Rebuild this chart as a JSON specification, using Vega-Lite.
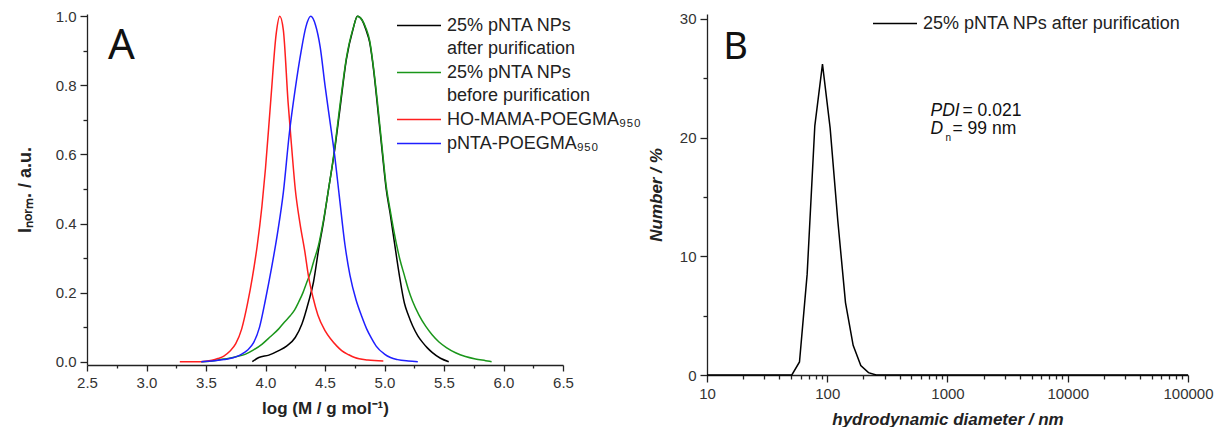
{
  "$schema": "https://vega.github.io/schema/vega-lite/v6.json",
  "background": "white",
  "padding": {"left": 16, "top": 9, "right": 0, "bottom": 0},
  "spacing": 6,
  "resolve": {"scale": {"color": "independent"}, "legend": {"color": "independent"}},
  "config": {
    "view": {"stroke": null},
    "axis": {
      "grid": false,
      "domainColor": "#222",
      "domainWidth": 1.3,
      "tickColor": "#222",
      "tickWidth": 1.3,
      "labelFont": "Liberation Sans",
      "labelFontSize": 15,
      "labelColor": "#333",
      "labelFlush": false,
      "labelOverlap": false,
      "titleFont": "Liberation Sans",
      "titleFontSize": 17,
      "titleFontWeight": "bold",
      "titleColor": "#222"
    },
    "legend": {
      "padding": 0,
      "labelFont": "Liberation Sans",
      "labelFontSize": 18,
      "labelColor": "#222",
      "labelLimit": 400,
      "labelOffset": 5,
      "rowPadding": 5,
      "clipHeight": 17,
      "symbolType": "stroke",
      "symbolSize": 1936,
      "symbolStrokeWidth": 1.5
    }
  },
  "hconcat": [
    {
      "width": 476,
      "height": 351,
      "resolve": {"axis": {"x": "independent", "y": "independent"}},
      "layer": [
        {
          "data": {"values": [
            {"s":"25% pNTA NPs after purification","x":3.889,"y":0},{"s":"25% pNTA NPs after purification","x":3.944,"y":0.012},{"s":"25% pNTA NPs after purification","x":4.028,"y":0.019},{"s":"25% pNTA NPs after purification","x":4.111,"y":0.032},{"s":"25% pNTA NPs after purification","x":4.18,"y":0.046},{"s":"25% pNTA NPs after purification","x":4.25,"y":0.07},{"s":"25% pNTA NPs after purification","x":4.306,"y":0.109},{"s":"25% pNTA NPs after purification","x":4.361,"y":0.172},{"s":"25% pNTA NPs after purification","x":4.403,"y":0.23},{"s":"25% pNTA NPs after purification","x":4.444,"y":0.32},{"s":"25% pNTA NPs after purification","x":4.49,"y":0.41},{"s":"25% pNTA NPs after purification","x":4.53,"y":0.5},{"s":"25% pNTA NPs after purification","x":4.58,"y":0.61},{"s":"25% pNTA NPs after purification","x":4.625,"y":0.73},{"s":"25% pNTA NPs after purification","x":4.68,"y":0.876},{"s":"25% pNTA NPs after purification","x":4.736,"y":0.963},{"s":"25% pNTA NPs after purification","x":4.772,"y":1.0},{"s":"25% pNTA NPs after purification","x":4.81,"y":0.99},{"s":"25% pNTA NPs after purification","x":4.845,"y":0.96},{"s":"25% pNTA NPs after purification","x":4.875,"y":0.925},{"s":"25% pNTA NPs after purification","x":4.91,"y":0.84},{"s":"25% pNTA NPs after purification","x":4.944,"y":0.73},{"s":"25% pNTA NPs after purification","x":4.98,"y":0.61},{"s":"25% pNTA NPs after purification","x":5.014,"y":0.5},{"s":"25% pNTA NPs after purification","x":5.047,"y":0.43},{"s":"25% pNTA NPs after purification","x":5.083,"y":0.346},{"s":"25% pNTA NPs after purification","x":5.125,"y":0.25},{"s":"25% pNTA NPs after purification","x":5.167,"y":0.17},{"s":"25% pNTA NPs after purification","x":5.2,"y":0.135},{"s":"25% pNTA NPs after purification","x":5.236,"y":0.104},{"s":"25% pNTA NPs after purification","x":5.28,"y":0.075},{"s":"25% pNTA NPs after purification","x":5.32,"y":0.056},{"s":"25% pNTA NPs after purification","x":5.36,"y":0.04},{"s":"25% pNTA NPs after purification","x":5.4,"y":0.027},{"s":"25% pNTA NPs after purification","x":5.47,"y":0.01},{"s":"25% pNTA NPs after purification","x":5.54,"y":0},
            {"s":"25% pNTA NPs before purification","x":3.46,"y":0},{"s":"25% pNTA NPs before purification","x":3.55,"y":0.002},{"s":"25% pNTA NPs before purification","x":3.62,"y":0.006},{"s":"25% pNTA NPs before purification","x":3.694,"y":0.01},{"s":"25% pNTA NPs before purification","x":3.76,"y":0.015},{"s":"25% pNTA NPs before purification","x":3.833,"y":0.022},{"s":"25% pNTA NPs before purification","x":3.9,"y":0.034},{"s":"25% pNTA NPs before purification","x":3.972,"y":0.051},{"s":"25% pNTA NPs before purification","x":4.04,"y":0.072},{"s":"25% pNTA NPs before purification","x":4.111,"y":0.095},{"s":"25% pNTA NPs before purification","x":4.16,"y":0.115},{"s":"25% pNTA NPs before purification","x":4.208,"y":0.133},{"s":"25% pNTA NPs before purification","x":4.245,"y":0.15},{"s":"25% pNTA NPs before purification","x":4.278,"y":0.172},{"s":"25% pNTA NPs before purification","x":4.315,"y":0.2},{"s":"25% pNTA NPs before purification","x":4.347,"y":0.23},{"s":"25% pNTA NPs before purification","x":4.38,"y":0.26},{"s":"25% pNTA NPs before purification","x":4.403,"y":0.288},{"s":"25% pNTA NPs before purification","x":4.444,"y":0.335},{"s":"25% pNTA NPs before purification","x":4.49,"y":0.415},{"s":"25% pNTA NPs before purification","x":4.53,"y":0.5},{"s":"25% pNTA NPs before purification","x":4.58,"y":0.615},{"s":"25% pNTA NPs before purification","x":4.625,"y":0.74},{"s":"25% pNTA NPs before purification","x":4.68,"y":0.88},{"s":"25% pNTA NPs before purification","x":4.736,"y":0.965},{"s":"25% pNTA NPs before purification","x":4.775,"y":1.0},{"s":"25% pNTA NPs before purification","x":4.81,"y":0.99},{"s":"25% pNTA NPs before purification","x":4.845,"y":0.965},{"s":"25% pNTA NPs before purification","x":4.875,"y":0.93},{"s":"25% pNTA NPs before purification","x":4.91,"y":0.845},{"s":"25% pNTA NPs before purification","x":4.944,"y":0.74},{"s":"25% pNTA NPs before purification","x":4.98,"y":0.62},{"s":"25% pNTA NPs before purification","x":5.014,"y":0.51},{"s":"25% pNTA NPs before purification","x":5.047,"y":0.44},{"s":"25% pNTA NPs before purification","x":5.097,"y":0.346},{"s":"25% pNTA NPs before purification","x":5.13,"y":0.295},{"s":"25% pNTA NPs before purification","x":5.167,"y":0.25},{"s":"25% pNTA NPs before purification","x":5.2,"y":0.21},{"s":"25% pNTA NPs before purification","x":5.236,"y":0.175},{"s":"25% pNTA NPs before purification","x":5.29,"y":0.135},{"s":"25% pNTA NPs before purification","x":5.347,"y":0.102},{"s":"25% pNTA NPs before purification","x":5.4,"y":0.078},{"s":"25% pNTA NPs before purification","x":5.458,"y":0.057},{"s":"25% pNTA NPs before purification","x":5.52,"y":0.041},{"s":"25% pNTA NPs before purification","x":5.597,"y":0.026},{"s":"25% pNTA NPs before purification","x":5.68,"y":0.015},{"s":"25% pNTA NPs before purification","x":5.764,"y":0.008},{"s":"25% pNTA NPs before purification","x":5.85,"y":0.003},{"s":"25% pNTA NPs before purification","x":5.9,"y":0},
            {"s":"HO-MAMA-POEGMA₉₅₀","x":3.28,"y":0},{"s":"HO-MAMA-POEGMA₉₅₀","x":3.45,"y":0},{"s":"HO-MAMA-POEGMA₉₅₀","x":3.5,"y":0.001},{"s":"HO-MAMA-POEGMA₉₅₀","x":3.55,"y":0.004},{"s":"HO-MAMA-POEGMA₉₅₀","x":3.6,"y":0.009},{"s":"HO-MAMA-POEGMA₉₅₀","x":3.65,"y":0.016},{"s":"HO-MAMA-POEGMA₉₅₀","x":3.7,"y":0.03},{"s":"HO-MAMA-POEGMA₉₅₀","x":3.75,"y":0.052},{"s":"HO-MAMA-POEGMA₉₅₀","x":3.8,"y":0.095},{"s":"HO-MAMA-POEGMA₉₅₀","x":3.85,"y":0.17},{"s":"HO-MAMA-POEGMA₉₅₀","x":3.89,"y":0.245},{"s":"HO-MAMA-POEGMA₉₅₀","x":3.93,"y":0.335},{"s":"HO-MAMA-POEGMA₉₅₀","x":3.97,"y":0.45},{"s":"HO-MAMA-POEGMA₉₅₀","x":4.0,"y":0.56},{"s":"HO-MAMA-POEGMA₉₅₀","x":4.045,"y":0.76},{"s":"HO-MAMA-POEGMA₉₅₀","x":4.09,"y":0.95},{"s":"HO-MAMA-POEGMA₉₅₀","x":4.12,"y":1.0},{"s":"HO-MAMA-POEGMA₉₅₀","x":4.15,"y":0.96},{"s":"HO-MAMA-POEGMA₉₅₀","x":4.19,"y":0.75},{"s":"HO-MAMA-POEGMA₉₅₀","x":4.22,"y":0.62},{"s":"HO-MAMA-POEGMA₉₅₀","x":4.25,"y":0.5},{"s":"HO-MAMA-POEGMA₉₅₀","x":4.29,"y":0.4},{"s":"HO-MAMA-POEGMA₉₅₀","x":4.33,"y":0.32},{"s":"HO-MAMA-POEGMA₉₅₀","x":4.36,"y":0.25},{"s":"HO-MAMA-POEGMA₉₅₀","x":4.4,"y":0.185},{"s":"HO-MAMA-POEGMA₉₅₀","x":4.44,"y":0.135},{"s":"HO-MAMA-POEGMA₉₅₀","x":4.5,"y":0.09},{"s":"HO-MAMA-POEGMA₉₅₀","x":4.55,"y":0.065},{"s":"HO-MAMA-POEGMA₉₅₀","x":4.6,"y":0.045},{"s":"HO-MAMA-POEGMA₉₅₀","x":4.64,"y":0.032},{"s":"HO-MAMA-POEGMA₉₅₀","x":4.7,"y":0.02},{"s":"HO-MAMA-POEGMA₉₅₀","x":4.75,"y":0.012},{"s":"HO-MAMA-POEGMA₉₅₀","x":4.86,"y":0.005},{"s":"HO-MAMA-POEGMA₉₅₀","x":4.99,"y":0.002},
            {"s":"pNTA-POEGMA₉₅₀","x":3.46,"y":0},{"s":"pNTA-POEGMA₉₅₀","x":3.55,"y":0.002},{"s":"pNTA-POEGMA₉₅₀","x":3.65,"y":0.006},{"s":"pNTA-POEGMA₉₅₀","x":3.7,"y":0.009},{"s":"pNTA-POEGMA₉₅₀","x":3.75,"y":0.014},{"s":"pNTA-POEGMA₉₅₀","x":3.8,"y":0.022},{"s":"pNTA-POEGMA₉₅₀","x":3.85,"y":0.034},{"s":"pNTA-POEGMA₉₅₀","x":3.9,"y":0.055},{"s":"pNTA-POEGMA₉₅₀","x":3.95,"y":0.1},{"s":"pNTA-POEGMA₉₅₀","x":4.0,"y":0.18},{"s":"pNTA-POEGMA₉₅₀","x":4.05,"y":0.27},{"s":"pNTA-POEGMA₉₅₀","x":4.1,"y":0.37},{"s":"pNTA-POEGMA₉₅₀","x":4.15,"y":0.49},{"s":"pNTA-POEGMA₉₅₀","x":4.2,"y":0.66},{"s":"pNTA-POEGMA₉₅₀","x":4.25,"y":0.79},{"s":"pNTA-POEGMA₉₅₀","x":4.3,"y":0.9},{"s":"pNTA-POEGMA₉₅₀","x":4.34,"y":0.97},{"s":"pNTA-POEGMA₉₅₀","x":4.38,"y":1.0},{"s":"pNTA-POEGMA₉₅₀","x":4.42,"y":0.975},{"s":"pNTA-POEGMA₉₅₀","x":4.46,"y":0.91},{"s":"pNTA-POEGMA₉₅₀","x":4.5,"y":0.8},{"s":"pNTA-POEGMA₉₅₀","x":4.54,"y":0.7},{"s":"pNTA-POEGMA₉₅₀","x":4.58,"y":0.6},{"s":"pNTA-POEGMA₉₅₀","x":4.62,"y":0.48},{"s":"pNTA-POEGMA₉₅₀","x":4.667,"y":0.34},{"s":"pNTA-POEGMA₉₅₀","x":4.71,"y":0.25},{"s":"pNTA-POEGMA₉₅₀","x":4.76,"y":0.18},{"s":"pNTA-POEGMA₉₅₀","x":4.81,"y":0.13},{"s":"pNTA-POEGMA₉₅₀","x":4.85,"y":0.095},{"s":"pNTA-POEGMA₉₅₀","x":4.89,"y":0.068},{"s":"pNTA-POEGMA₉₅₀","x":4.93,"y":0.045},{"s":"pNTA-POEGMA₉₅₀","x":5.0,"y":0.022},{"s":"pNTA-POEGMA₉₅₀","x":5.05,"y":0.012},{"s":"pNTA-POEGMA₉₅₀","x":5.11,"y":0.006},{"s":"pNTA-POEGMA₉₅₀","x":5.2,"y":0.002},{"s":"pNTA-POEGMA₉₅₀","x":5.28,"y":0}
          ]},
          "mark": {"type": "line", "strokeWidth": 1.5, "interpolate": "monotone"},
          "encoding": {
            "x": {"field": "x", "type": "quantitative",
              "scale": {"domain": [2.5, 6.5], "nice": false, "zero": false},
              "axis": {
                "orient": "bottom",
                "title": "log (M / g mol⁻¹)",
                "values": [2.5,3,3.5,4,4.5,5,5.5,6,6.5],
                "format": ".1f",
                "tickSize": 6,
                "labelPadding": 4,
                "titlePadding": 10
              }},
            "y": {"field": "y", "type": "quantitative",
              "scale": {"domain": [-0.0096, 1.0067], "nice": false, "zero": false},
              "axis": {
                "orient": "left",
                "title": "Iₙₒᵣₘ. / a.u.",
                "titleFontSize": 18,
                "values": [0,0.2,0.4,0.6,0.8,1.0],
                "format": ".1f",
                "tickSize": 7,
                "labelPadding": 4,
                "titlePadding": 21
              }},
            "color": {"field": "s", "type": "nominal",
              "scale": {
                "domain": ["25% pNTA NPs after purification", "25% pNTA NPs before purification", "HO-MAMA-POEGMA₉₅₀", "pNTA-POEGMA₉₅₀"],
                "range": ["#000000", "#1a961a", "#ff1f1f", "#1f1fff"]
              },
              "legend": {
                "title": null,
                "orient": "none",
                "legendX": 309,
                "legendY": 3,
                "labelExpr": "indexof(datum.label, 'purification') > 0 ? [substring(datum.label, 0, 12), substring(datum.label, 13)] : datum.label",
                "encode": {"labels": {"update": {"lineHeight": {"value": 23}}}}
              }}
          }
        },
        {
          "data": {"values": [{"t": "A", "x": 2.79, "y": 0.876}]},
          "mark": {"type": "text", "font": "Noto Sans", "fontSize": 42, "align": "center", "baseline": "alphabetic", "color": "#111"},
          "encoding": {
            "x": {"field": "x", "type": "quantitative",
              "axis": {"orient": "bottom", "values": [2.75,3.25,3.75,4.25,4.75,5.25,5.75,6.25], "labels": false, "domain": false, "tickSize": 3, "title": null}},
            "y": {"field": "y", "type": "quantitative",
              "axis": {"orient": "left", "values": [0.1,0.3,0.5,0.7,0.9], "labels": false, "domain": false, "tickSize": 4, "title": null}},
            "text": {"field": "t"}
          }
        }
      ]
    },
    {
      "width": 481,
      "height": 361,
      "resolve": {"axis": {"x": "independent", "y": "independent"}},
      "layer": [
        {
          "data": {"values": [
            {"s":"25% pNTA NPs after purification","d":10,"n":0},
            {"s":"25% pNTA NPs after purification","d":50.75,"n":0},
            {"s":"25% pNTA NPs after purification","d":58.77,"n":1.1},
            {"s":"25% pNTA NPs after purification","d":68.06,"n":8.5},
            {"s":"25% pNTA NPs after purification","d":78.82,"n":21.0},
            {"s":"25% pNTA NPs after purification","d":91.28,"n":26.2},
            {"s":"25% pNTA NPs after purification","d":105.7,"n":20.8},
            {"s":"25% pNTA NPs after purification","d":122.4,"n":13.0},
            {"s":"25% pNTA NPs after purification","d":141.8,"n":6.1},
            {"s":"25% pNTA NPs after purification","d":164.2,"n":2.5},
            {"s":"25% pNTA NPs after purification","d":190.1,"n":0.8},
            {"s":"25% pNTA NPs after purification","d":220.2,"n":0.2},
            {"s":"25% pNTA NPs after purification","d":255.0,"n":0},
            {"s":"25% pNTA NPs after purification","d":100000,"n":0}
          ]},
          "mark": {"type": "line", "strokeWidth": 1.5},
          "encoding": {
            "x": {"field": "d", "type": "quantitative",
              "scale": {"type": "log", "domain": [10, 100000], "nice": false},
              "axis": {
                "orient": "bottom",
                "title": "hydrodynamic diameter / nm",
                "titleFontStyle": "italic",
                "values": [10,100,1000,10000,100000],
                "format": "d",
                "tickSize": 7,
                "labelPadding": 4,
                "titlePadding": 10
              }},
            "y": {"field": "n", "type": "quantitative",
              "scale": {"domain": [0, 30.42], "nice": false},
              "axis": {
                "orient": "left",
                "title": "Number / %",
                "titleFontStyle": "italic",
                "values": [0,10,20,30],
                "format": "d",
                "tickSize": 7,
                "labelPadding": 4,
                "titlePadding": 14
              }},
            "color": {"field": "s", "type": "nominal",
              "scale": {"range": ["#000000"]},
              "legend": {"title": null, "orient": "none", "legendX": 165, "legendY": 1}}
          }
        },
        {
          "data": {"values": [{"t": "B", "x": 17.25, "y": 26.63}]},
          "mark": {"type": "text", "font": "Noto Sans", "fontSize": 38, "align": "center", "baseline": "alphabetic", "color": "#111"},
          "encoding": {
            "x": {"field": "x", "type": "quantitative",
              "axis": {"orient": "bottom", "values": [20,30,40,50,60,70,80,90,200,300,400,500,600,700,800,900,2000,3000,4000,5000,6000,7000,8000,9000,20000,30000,40000,50000,60000,70000,80000,90000], "labels": false, "domain": false, "tickSize": 4, "title": null}},
            "y": {"field": "y", "type": "quantitative",
              "axis": {"orient": "left", "values": [5,15,25], "labels": false, "domain": false, "tickSize": 4, "title": null}},
            "text": {"field": "t"}
          }
        },
        {
          "data": {"values": [{"t": "PDI", "x": 722.6, "y": 21.85}, {"t": "D", "x": 722.6, "y": 20.31}]},
          "mark": {"type": "text", "font": "Liberation Sans", "fontSize": 17.5, "fontStyle": "italic", "align": "left", "baseline": "alphabetic", "color": "#111"},
          "encoding": {
            "x": {"field": "x", "type": "quantitative", "axis": null},
            "y": {"field": "y", "type": "quantitative", "axis": null},
            "text": {"field": "t"}
          }
        },
        {
          "data": {"values": [{"t": "= 0.021", "x": 722.6, "y": 21.85}]},
          "mark": {"type": "text", "font": "Liberation Sans", "fontSize": 17.5, "align": "left", "baseline": "alphabetic", "dx": 32, "color": "#111"},
          "encoding": {
            "x": {"field": "x", "type": "quantitative", "axis": null},
            "y": {"field": "y", "type": "quantitative", "axis": null},
            "text": {"field": "t"}
          }
        },
        {
          "data": {"values": [{"t": "n", "x": 722.6, "y": 20.31}]},
          "mark": {"type": "text", "font": "Liberation Sans", "fontSize": 10, "align": "left", "baseline": "alphabetic", "dx": 15, "dy": 7, "color": "#111"},
          "encoding": {
            "x": {"field": "x", "type": "quantitative", "axis": null},
            "y": {"field": "y", "type": "quantitative", "axis": null},
            "text": {"field": "t"}
          }
        },
        {
          "data": {"values": [{"t": "= 99 nm", "x": 722.6, "y": 20.31}]},
          "mark": {"type": "text", "font": "Liberation Sans", "fontSize": 17.5, "align": "left", "baseline": "alphabetic", "dx": 22, "color": "#111"},
          "encoding": {
            "x": {"field": "x", "type": "quantitative", "axis": null},
            "y": {"field": "y", "type": "quantitative", "axis": null},
            "text": {"field": "t"}
          }
        }
      ]
    }
  ]
}
